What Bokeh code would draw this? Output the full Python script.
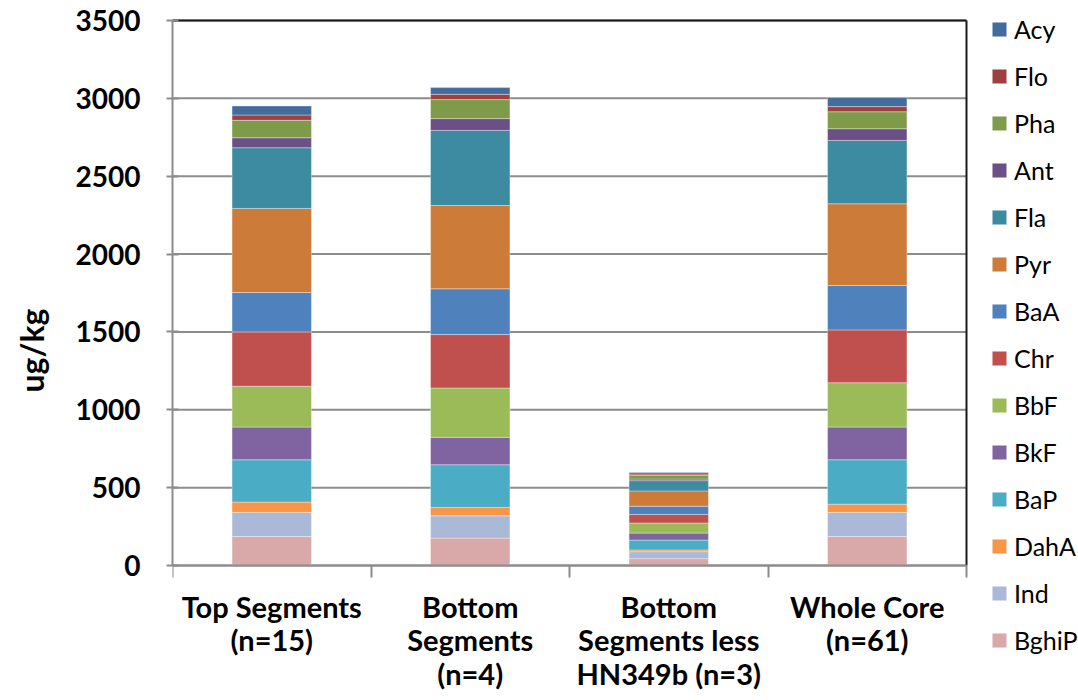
from bokeh.plotting import figure
from bokeh.models import (ColumnDataSource, Range1d, Legend, LegendItem,
                          FixedTicker)
from bokeh.embed import file_html
from bokeh.resources import INLINE

# PAH concentrations (ug/kg) per core grouping
categories = ["Top Segments\n(n=15)", "Bottom\nSegments\n(n=4)",
              "Bottom\nSegments less\nHN349b (n=3)", "Whole Core\n(n=61)"]

BghiP = [186, 176, 44, 186]
Ind = [155, 143, 45, 155]
DahA = [66, 54, 11, 53]
BaP = [272, 274, 63, 285]
BkF = [210, 176, 45, 210]
BbF = [262, 317, 65, 285]
Chr = [349, 343, 55, 339]
BaA = [253, 294, 53, 285]
Pyr = [540, 535, 98, 525]
Fla = [390, 482, 66, 407]
Ant = [64, 76, 10, 75]
Pha = [112, 122, 23, 109]
Flo = [34, 34, 9, 33]
Acy = [58, 43, 10, 58]

compounds = ["BghiP", "Ind", "DahA", "BaP", "BkF", "BbF", "Chr", "BaA",
             "Pyr", "Fla", "Ant", "Pha", "Flo", "Acy"]
series = [BghiP, Ind, DahA, BaP, BkF, BbF, Chr, BaA, Pyr, Fla, Ant, Pha, Flo, Acy]
colors = ["#D9A8A8", "#AAB9D7", "#F79646", "#4BACC6", "#8064A2", "#9BBB59",
          "#C0504D", "#4F81BD", "#CC7B38", "#3C8BA0", "#6A5087", "#7F9A48",
          "#A0403E", "#426B9E"]
Y_MAX = 3500
y_ticks = list(range(0, Y_MAX + 1, 500))

# each category occupies one unit slot; bars sit in the middle of their slot
n = len(categories)
centers = [i + 0.5 for i in range(n)]
edges = list(range(n + 1))

data = {"x": centers}
for name, vals in zip(compounds, series):
    data[name] = vals
source = ColumnDataSource(data)

FONT = "Lato"
GRID = "#8C8C8C"
INK = "#000000"
BORDER = "#1A1A1A"

# The frame covers the whole page right of the y axis; the bar area is
# 794 x 545 px with its top 20 px below the page top.  Axis labels and the
# legend are drawn in the margin of the frame around the bar area.
W, H, LEFT = 1078, 700, 172
PLOT_W, PLOT_H, PLOT_TOP = 794, 545, 20
units_per_px = Y_MAX / PLOT_H
x_end = n * (W - LEFT) / PLOT_W
y_start = -(H - PLOT_TOP - PLOT_H) * units_per_px
y_end = Y_MAX + PLOT_TOP * units_per_px

p = figure(width=W, height=H, x_range=Range1d(0, x_end), y_range=Range1d(y_start, y_end),
           output_backend="svg", toolbar_location=None,
           min_border_left=LEFT, min_border_right=0, min_border_top=0,
           min_border_bottom=0)
p.outline_line_color = None
p.background_fill_color = "white"
p.border_fill_color = "white"

# horizontal gridlines limited to the bar area
p.segment(x0=0, x1=n, y0=y_ticks, y1=y_ticks, line_color=GRID, line_width=2)

renderers = p.vbar_stack(compounds, x="x", width=0.4, source=source,
                         color=colors, line_color="white", line_alpha=0.35,
                         line_width=1)

# y axis
p.yaxis.bounds = (0, Y_MAX)
p.yaxis.ticker = FixedTicker(ticks=y_ticks)
p.yaxis.axis_label = "ug/kg"
p.yaxis.axis_label_text_font = FONT
p.yaxis.axis_label_text_font_style = "bold"
p.yaxis.axis_label_text_font_size = "32px"
p.yaxis.axis_label_text_color = INK
p.yaxis.axis_label_standoff = 22
p.yaxis.major_label_text_font = FONT
p.yaxis.major_label_text_font_style = "bold"
p.yaxis.major_label_text_font_size = "28px"
p.yaxis.major_label_text_color = INK
p.yaxis.major_label_standoff = 26
p.yaxis.axis_line_color = GRID
p.yaxis.axis_line_width = 2
p.yaxis.major_tick_line_color = GRID
p.yaxis.major_tick_line_width = 2
p.yaxis.major_tick_in = 6
p.yaxis.major_tick_out = 6
p.yaxis.minor_tick_line_color = None

# x axis pinned at zero: labels at slot centres, separator ticks at slot edges
p.xaxis.fixed_location = 0
p.xaxis.bounds = (0, n)
p.xaxis.ticker = FixedTicker(ticks=centers, minor_ticks=edges)
p.xaxis.major_label_overrides = {c: lab for c, lab in zip(centers, categories)}
p.xaxis.major_label_text_font = FONT
p.xaxis.major_label_text_font_style = "bold"
p.xaxis.major_label_text_font_size = "29px"
p.xaxis.major_label_text_color = INK
p.xaxis.major_label_text_line_height = 0.96
p.xaxis.major_label_standoff = 11
p.xaxis.axis_line_color = GRID
p.xaxis.axis_line_width = 2
p.xaxis.major_tick_line_color = None
p.xaxis.major_tick_out = 6
p.xaxis.minor_tick_line_color = GRID
p.xaxis.minor_tick_line_width = 2
p.xaxis.minor_tick_in = 0
p.xaxis.minor_tick_out = 12

p.xgrid.grid_line_color = None
p.ygrid.grid_line_color = None

# plot-area border on the top and right sides of the bar area
p.segment(x0=[0, n], x1=[n, n], y0=[Y_MAX, 0], y1=[Y_MAX, Y_MAX],
          line_color=BORDER, line_width=2)

items = [LegendItem(label=name, renderers=[r]) for name, r in zip(compounds, renderers)]
items.reverse()
legend = Legend(items=items, location=(818, 45), orientation="vertical",
                glyph_width=18, glyph_height=18, label_height=30,
                label_text_font=FONT, label_text_font_size="25px",
                label_text_color=INK,
                label_standoff=6, spacing=17, padding=0, margin=0,
                border_line_color=None, background_fill_alpha=0)
p.add_layout(legend)

open("out.html", "w").write(file_html(p, INLINE))
